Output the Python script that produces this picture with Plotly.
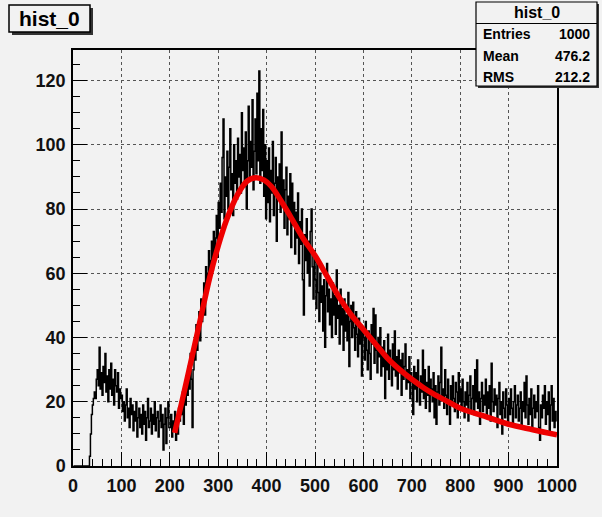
import numpy as np
import plotly.graph_objects as go

# ---- histogram hist_0 : 500 bins of width 2 on [0, 1000] ----
bin_edges = np.arange(0, 1001, 2)
bin_centers = (bin_edges[:-1] + bin_edges[1:]) / 2

counts_0_100 = [0] * 17 + [3, 10, 16, 19, 21, 23, 21, 27, 30, 25, 37, 24, 29, 22, 31, 26, 35, 23, 28, 20,
                           30, 24, 32, 22, 27, 19, 30, 25, 23, 29, 18, 24, 21]
counts_100_200 = [22, 17, 20, 14, 19, 24, 15, 18, 12, 21, 16, 19, 11, 17, 14, 20, 9, 15, 18, 12,
                  16, 10, 19, 13, 17, 8, 15, 21, 12, 14, 18, 10, 16, 13, 20, 11, 15, 17, 9, 14,
                  19, 12, 16, 5, 13, 18, 7, 15, 20, 12]
counts_200_300 = [12, 16, 9, 14, 11, 17, 8, 13, 10, 18, 14, 20, 16, 23, 13, 25, 19, 28, 22, 31,
                  24, 35, 27, 12, 30, 38, 33, 44, 36, 41, 48, 39, 52, 45, 50, 57, 47, 62, 55, 60,
                  67, 58, 64, 70, 61, 73, 66, 71, 78, 65]
counts_300_400 = [82, 74, 88, 79, 96, 108, 77, 90, 84, 98, 80, 93, 105, 86, 91, 78, 100, 88, 95, 83,
                  102, 90, 97, 85, 110, 92, 99, 87, 104, 80, 95, 112, 89, 101, 93, 114, 86, 98, 108, 91,
                  116, 95, 123, 88, 105, 92, 111, 84, 100, 77]
counts_400_500 = [95, 82, 99, 76, 92, 85, 101, 78, 88, 96, 70, 90, 83, 94, 79, 104, 81, 89, 74, 86,
                  93, 72, 84, 77, 91, 68, 88, 75, 82, 66, 79, 71, 85, 63, 76, 69, 80, 58, 47, 72,
                  64, 77, 60, 70, 56, 73, 80, 62, 52, 67]
counts_500_600 = [58, 49, 63, 54, 45, 60, 51, 56, 42, 58, 37, 53, 63, 48, 55, 44, 52, 40, 57, 47,
                  53, 41, 61, 46, 50, 38, 55, 44, 49, 36, 52, 42, 47, 39, 54, 31, 45, 50, 40, 51,
                  43, 36, 48, 41, 34, 46, 38, 44, 28, 42]
counts_600_700 = [40, 33, 45, 36, 30, 42, 35, 27, 44, 38, 49, 32, 47, 36, 29, 40, 34, 43, 28, 37,
                  31, 39, 21, 35, 30, 41, 27, 36, 32, 25, 38, 30, 42, 28, 34, 24, 36, 29, 33, 22,
                  35, 27, 31, 38, 24, 30, 26, 34, 21, 29]
counts_700_800 = [27, 16, 31, 24, 29, 20, 33, 25, 19, 28, 23, 36, 21, 30, 18, 26, 22, 31, 17, 27,
                  24, 20, 29, 15, 25, 13, 23, 28, 19, 26, 37, 21, 24, 18, 30, 22, 16, 27, 20, 13,
                  25, 19, 28, 21, 17, 26, 23, 15, 29, 20]
counts_800_900 = [24, 18, 27, 20, 15, 23, 19, 26, 14, 22, 28, 17, 21, 25, 16, 30, 20, 33, 18, 23,
                  13, 21, 26, 17, 22, 19, 27, 15, 23, 18, 25, 14, 32, 20, 17, 24, 19, 22, 12, 21,
                  26, 16, 20, 10, 23, 18, 15, 24, 19, 13]
counts_900_1000 = [21, 16, 24, 18, 13, 20, 25, 15, 19, 22, 14, 18, 23, 12, 20, 17, 26, 15, 28, 19,
                   13, 21, 16, 24, 11, 18, 22, 15, 20, 17, 25, 12, 8, 19, 15, 22, 18, 25, 13, 20,
                   16, 23, 11, 19, 25, 14, 21, 12, 17, 14]

counts = (counts_0_100 + counts_100_200 + counts_200_300 + counts_300_400 + counts_400_500
          + counts_500_600 + counts_600_700 + counts_700_800 + counts_800_900 + counts_900_1000)

# ---- fitted curve (sampled) ----
fit_x = [210, 225, 240, 260, 283, 300, 317, 340, 360, 378, 395, 410, 430, 450, 475, 500,
         525, 550, 575, 600, 625, 650, 675, 700, 725, 750, 775, 800, 850, 900, 950, 1000]
fit_y = [10.3, 20, 30, 43.5, 59, 68.5, 76.5, 84.5, 88.7, 89.7, 89, 87, 82.5, 77.5, 71, 65.5,
         59, 52.5, 47, 42.5, 38, 33.5, 30, 27, 24.3, 22, 20, 18, 15.5, 13, 11.3, 9.7]

# stats box contents
stats_title = "hist_0"
stats_labels = ["Entries", "Mean", "RMS"]
stats_values = ["1000", "476.2", "212.2"]

BG = "#f2f2f2"
FONT = "Liberation Sans, Arial, Helvetica, sans-serif"

# plot-area geometry in pixels (used to place boxes in paper coordinates)
W, H = 602, 517
ML, MR, MT, MB = 73, 45, 50, 51
PW, PH = W - ML - MR, H - MT - MB


def px(x):
    return (x - ML) / PW


def py(y):
    return (H - MB - y) / PH


fig = go.Figure()
fig.add_trace(go.Scatter(x=bin_centers, y=counts, mode="lines",
                         line=dict(color="black", width=1.5, shape="hvh"),
                         hoverinfo="skip", showlegend=False))
fig.add_trace(go.Scatter(x=fit_x, y=fit_y, mode="lines",
                         line=dict(color="#ee0000", width=5.5, shape="spline", smoothing=1.0),
                         hoverinfo="skip", showlegend=False))

axis_common = dict(
    showline=True, linecolor="black", linewidth=1.5, mirror=True,
    ticks="inside", tickcolor="black", tickwidth=1, ticklen=14,
    showgrid=True, gridcolor="#555555", griddash="dot", gridwidth=1,
    zeroline=False,
    tickfont=dict(family=FONT, size=18, color="#111111", weight="bold"),
)

fig.update_xaxes(range=[0, 1000], tickvals=list(range(0, 1001, 100)), ticklabelstandoff=3,
                 minor=dict(ticks="inside", ticklen=7, tickcolor="black", dtick=20, showgrid=False),
                 **axis_common)
fig.update_yaxes(range=[0, 129.5], tickvals=list(range(0, 121, 20)), ticklabelstandoff=2,
                 minor=dict(ticks="inside", ticklen=7, tickcolor="black", dtick=5, showgrid=False),
                 **axis_common)

shapes = []
annotations = []

# title box (with drop shadow)
shapes.append(dict(type="rect", xref="paper", yref="paper", layer="above",
                   x0=px(12), x1=px(93), y0=py(35), y1=py(8),
                   fillcolor="#333333", line=dict(width=0)))
shapes.append(dict(type="rect", xref="paper", yref="paper", layer="above",
                   x0=px(9), x1=px(90), y0=py(32), y1=py(5),
                   fillcolor=BG, line=dict(color="black", width=1.5)))
annotations.append(dict(xref="paper", yref="paper", x=px(49.5), y=py(18.5),
                        text="<b>hist_0</b>", showarrow=False,
                        font=dict(family=FONT, size=21, color="black"),
                        xanchor="center", yanchor="middle"))

# statistics box (with drop shadow)
shapes.append(dict(type="rect", xref="paper", yref="paper", layer="above",
                   x0=px(478), x1=px(599), y0=py(88), y1=py(4),
                   fillcolor="#333333", line=dict(width=0)))
shapes.append(dict(type="rect", xref="paper", yref="paper", layer="above",
                   x0=px(476), x1=px(597), y0=py(86), y1=py(2),
                   fillcolor=BG, line=dict(color="black", width=1.2)))
shapes.append(dict(type="line", xref="paper", yref="paper", layer="above",
                   x0=px(476), x1=px(597), y0=py(23.5), y1=py(23.5),
                   line=dict(color="black", width=1.2)))
annotations.append(dict(xref="paper", yref="paper", x=px(536.5), y=py(13),
                        text=f"<b>{stats_title}</b>", showarrow=False,
                        font=dict(family=FONT, size=16, color="black"),
                        xanchor="center", yanchor="middle"))
row_y = [34.5, 56, 77]
for lab, val, yy in zip(stats_labels, stats_values, row_y):
    annotations.append(dict(xref="paper", yref="paper", x=px(481), y=py(yy),
                            text=f"<b>{lab}</b>", showarrow=False,
                            font=dict(family=FONT, size=14, color="black"),
                            xanchor="left", yanchor="middle"))
    annotations.append(dict(xref="paper", yref="paper", x=px(592), y=py(yy),
                            text=f"<b>{val}</b>", showarrow=False,
                            font=dict(family=FONT, size=14, color="black"),
                            xanchor="right", yanchor="middle"))

fig.update_layout(
    width=W, height=H,
    margin=dict(l=ML, r=MR, t=MT, b=MB, pad=0),
    paper_bgcolor=BG, plot_bgcolor=BG,
    shapes=shapes, annotations=annotations,
    showlegend=False,
)

fig.write_html("out.html")
